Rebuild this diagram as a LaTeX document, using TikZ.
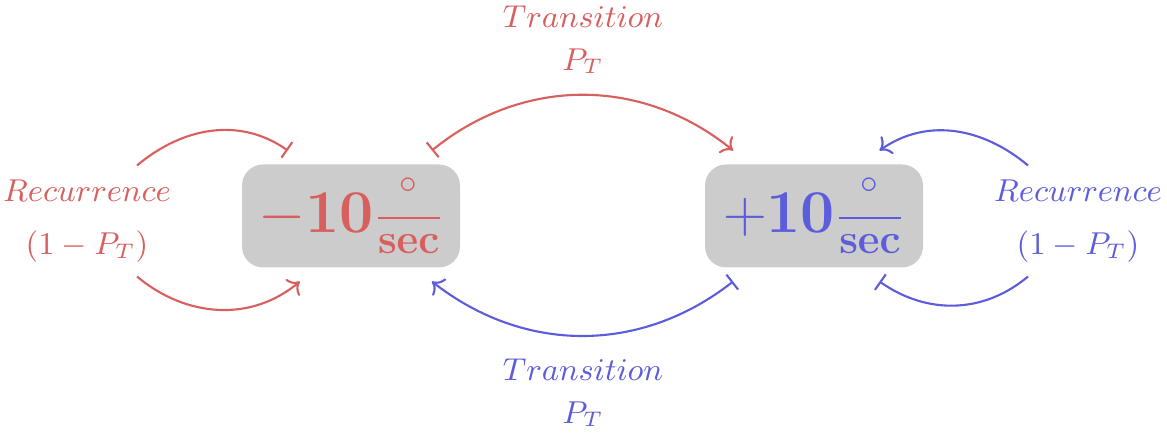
\documentclass[tikz,border=0pt]{standalone}
\usepackage{amsmath}
\usetikzlibrary{arrows.meta,positioning}
\definecolor{negred}{RGB}{217,94,94}
\definecolor{posblue}{RGB}{92,92,220}

\begin{document}
\begin{tikzpicture}[
  state/.style={
    rounded corners=6pt,
    align=center,
    fill=gray!40,
    font=\LARGE,
    minimum width=21.8mm,
    minimum height=10.3mm,
    outer sep=1.4mm
  },
  caption/.style={
    align=center,
    inner sep=2pt,
    outer sep=0.7mm,
    font=\fontsize{9.2pt}{12.2pt}\selectfont
  },
  trans/.style={|->, semithick},
  recur/.style={semithick}
]

\useasboundingbox (0,0) rectangle (11.67,4.37);

\node[state, text=negred] (neg) at (3.51, 2.21) {$-\mathbf{10}\frac{^\circ}{\mathbf{sec}}$};
\node[state, text=posblue] (pos) at (8.14, 2.21) {$+\mathbf{10}\frac{^\circ}{\mathbf{sec}}$};

\node[caption, text=negred] (transtop) at (5.83, 3.97) {$Transition$\\$P_T$};
\node[caption, text=posblue] (transbot) at (5.83, 0.44) {$Transition$\\$P_T$};
\node[caption, text=negred] (recneg) at (0.87, 2.16) {$Recurrence$\\[3pt]$(1-P_T)$};
\node[caption, text=posblue] (recpos) at (10.78, 2.16) {$Recurrence$\\[3pt]$(1-P_T)$};

\draw[trans, negred] (neg.39) to[bend left=39] (pos.141);
\draw[trans, posblue] (pos.-141) to[bend left=38] (neg.-39);

\draw[recur, negred, |-] (neg.134) to[out=145, in=40] (recneg.48);
\draw[recur, negred, ->] (recneg.-48) to[out=-40, in=-140] (neg.-128);
\draw[recur, posblue, |-] (pos.-45) to[out=-35, in=-140] (recpos.-132);
\draw[recur, posblue, ->] (recpos.132) to[out=140, in=35] (pos.45);

\end{tikzpicture}
\end{document}
